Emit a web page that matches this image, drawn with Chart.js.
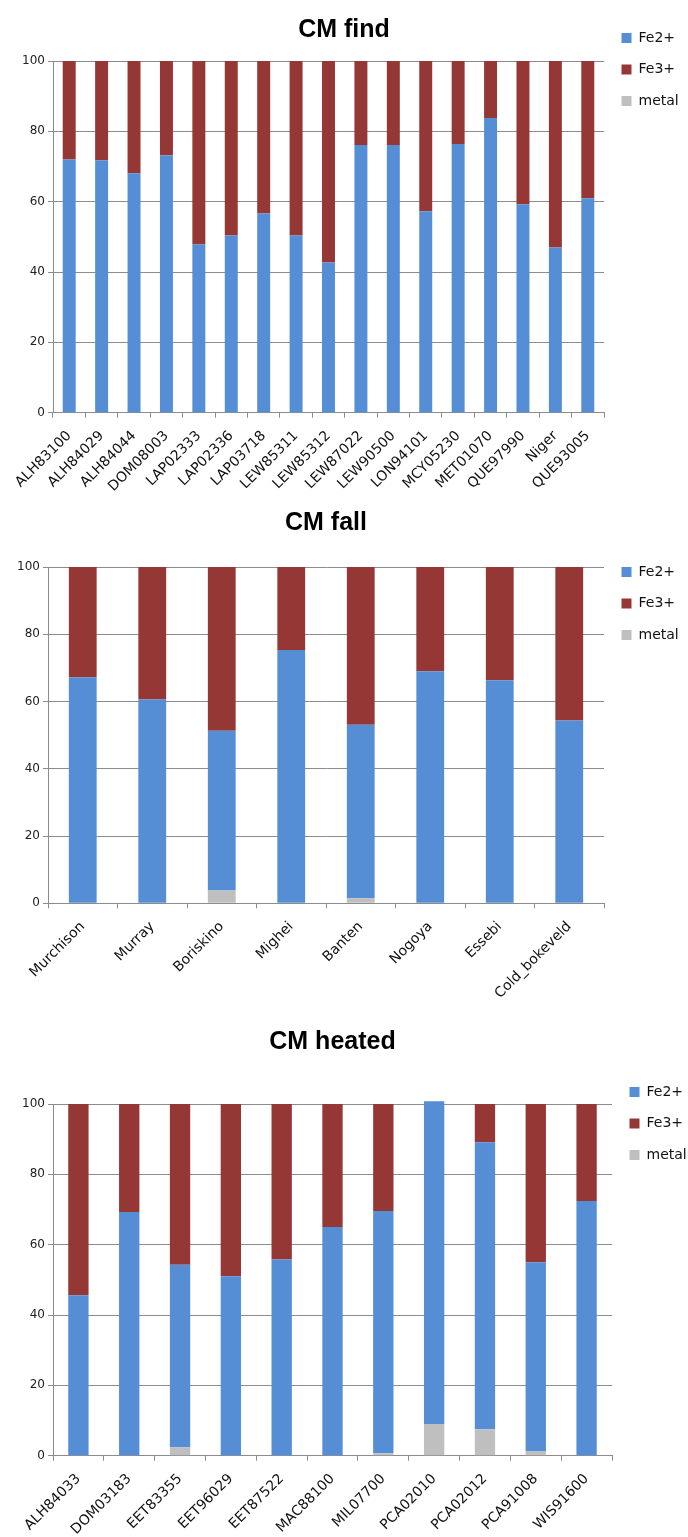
<!DOCTYPE html>
<html>
<head>
<meta charset="utf-8">
<script src="https://cdn.jsdelivr.net/npm/chart.js@4/dist/chart.umd.min.js"></script>
<style>
  body { margin: 0; background: #fff; }
  #page { position: relative; width: 688px; height: 1537px; overflow: hidden; }
  canvas { position: absolute; left: 0; }
</style>
</head>
<body>
<div id="page">
  <canvas id="find" width="688" height="512" style="top:0px"></canvas>
  <canvas id="fall" width="688" height="521" style="top:495px"></canvas>
  <canvas id="heated" width="688" height="568" style="top:990px"></canvas>
</div>
<script>
// CM find
const findLabels = ["ALH83100", "ALH84029", "ALH84044", "DOM08003", "LAP02333", "LAP02336", "LAP03718",
  "LEW85311", "LEW85312", "LEW87022", "LEW90500", "LON94101", "MCY05230", "MET01070", "QUE97990", "Niger", "QUE93005"];
const findFe2 = [72.0, 71.8, 68.1, 73.2, 47.8, 50.4, 56.7, 50.4, 42.7, 76.1, 76.1, 57.3, 76.4, 83.8, 59.3, 47.0, 61.0];
const findFe3 = [28.0, 28.2, 31.9, 26.8, 52.2, 49.6, 43.3, 49.6, 57.3, 23.9, 23.9, 42.7, 23.6, 16.2, 40.7, 53.0, 39.0];
const findMetal = [0, 0, 0, 0, 0, 0, 0, 0, 0, 0, 0, 0, 0, 0, 0, 0, 0];

// CM fall
const fallLabels = ["Murchison", "Murray", "Boriskino", "Mighei", "Banten", "Nogoya", "Essebi", "Cold_bokeveld"];
const fallFe2 = [67.2, 60.6, 47.5, 75.3, 51.6, 69.0, 66.3, 54.4];
const fallFe3 = [32.8, 39.4, 48.7, 24.7, 46.9, 31.0, 33.7, 45.6];
const fallMetal = [0, 0, 3.8, 0, 1.5, 0, 0, 0];

// CM heated
const heatedLabels = ["ALH84033", "DOM03183", "EET83355", "EET96029", "EET87522", "MAC88100",
  "MIL07700", "PCA02010", "PCA02012", "PCA91008", "WIS91600"];
const heatedFe2 = [45.6, 69.3, 51.9, 51.0, 55.8, 65.0, 68.9, 91.8, 81.6, 53.8, 72.4];
const heatedFe3 = [54.4, 30.7, 45.7, 49.0, 44.2, 35.0, 30.4, 0, 10.9, 45.0, 27.6];
const heatedMetal = [0, 0, 2.4, 0, 0, 0, 0.7, 9.0, 7.5, 1.2, 0];

const yTicks = [0, 20, 40, 60, 80, 100];
const legendOrder = ["Fe2+", "Fe3+", "metal"];

const BLUE = "#558ed5";
const RED = "#953735";
const GREY = "#bfbfbf";
const LINE = "#8c8c8c";

function makeChart(id, title, labels, fe2, fe3, metal, lay) {
  const ctx = document.getElementById(id).getContext("2d");
  const bar = { barPercentage: 0.4, categoryPercentage: 1.0, borderWidth: 0, clip: 8, stack: "s" };
  return new Chart(ctx, {
    type: "bar",
    data: {
      labels: labels,
      datasets: [
        Object.assign({ label: "metal", data: metal, backgroundColor: GREY }, bar),
        Object.assign({ label: "Fe2+", data: fe2, backgroundColor: BLUE }, bar),
        Object.assign({ label: "Fe3+", data: fe3, backgroundColor: RED }, bar),
      ]
    },
    options: {
      responsive: false,
      animation: false,
      devicePixelRatio: 1,
      layout: { padding: { left: 0, right: 0, top: 0, bottom: lay.bottom } },
      plugins: {
        tooltip: { enabled: false },
        title: {
          display: true,
          text: title,
          fullSize: lay.titleFull,
          color: "#000",
          font: { family: "'Liberation Sans', Arial, sans-serif", size: 25, weight: "bold", lineHeight: 1.2 },
          padding: { top: lay.titleTop, bottom: lay.titleBottom }
        },
        legend: {
          position: "right",
          align: "start",
          maxWidth: lay.legendWidth,
          title: { display: true, text: "", padding: 0, font: { size: 10, lineHeight: lay.legendTop + "px" } },
          labels: {
            boxWidth: 10,
            boxHeight: 10,
            padding: 17.5,
            color: "#111",
            font: { family: "'DejaVu Sans', sans-serif", size: 14 },
            sort: (a, b) => legendOrder.indexOf(a.text) - legendOrder.indexOf(b.text)
          }
        }
      },
      scales: {
        x: {
          stacked: true,
          grid: { display: true, drawOnChartArea: false, drawTicks: true, tickLength: 5, color: LINE, offset: true },
          border: { display: true, color: LINE },
          ticks: {
            autoSkip: false, minRotation: 45, maxRotation: 45, padding: 10, color: "#111",
            font: { family: "'DejaVu Sans', sans-serif", size: 14 }
          }
        },
        y: {
          stacked: true,
          min: 0,
          max: 100,
          afterBuildTicks: (axis) => { axis.ticks = yTicks.map(v => ({ value: v })); },
          afterFit: (axis) => { axis.width = lay.axisLeft; },
          grid: { color: LINE, drawTicks: true, tickLength: 5 },
          border: { display: true, color: LINE },
          ticks: { padding: 3, color: "#222", font: { family: "'DejaVu Sans', sans-serif", size: 12 } }
        }
      }
    }
  });
}

makeChart("find", "CM find", findLabels, findFe2, findFe3, findMetal,
  { axisLeft: 53, bottom: 7, titleFull: true, titleTop: 15, titleBottom: 16, legendTop: 13.5, legendWidth: 84 });
makeChart("fall", "CM fall", fallLabels, fallFe2, fallFe3, fallMetal,
  { axisLeft: 48, bottom: 4, titleFull: false, titleTop: 13, titleBottom: 29, legendTop: 52.5, legendWidth: 84 });
makeChart("heated", "CM heated", heatedLabels, heatedFe2, heatedFe3, heatedMetal,
  { axisLeft: 53, bottom: 10, titleFull: false, titleTop: 37, titleBottom: 47, legendTop: 77.5, legendWidth: 76 });
</script>
</body>
</html>
